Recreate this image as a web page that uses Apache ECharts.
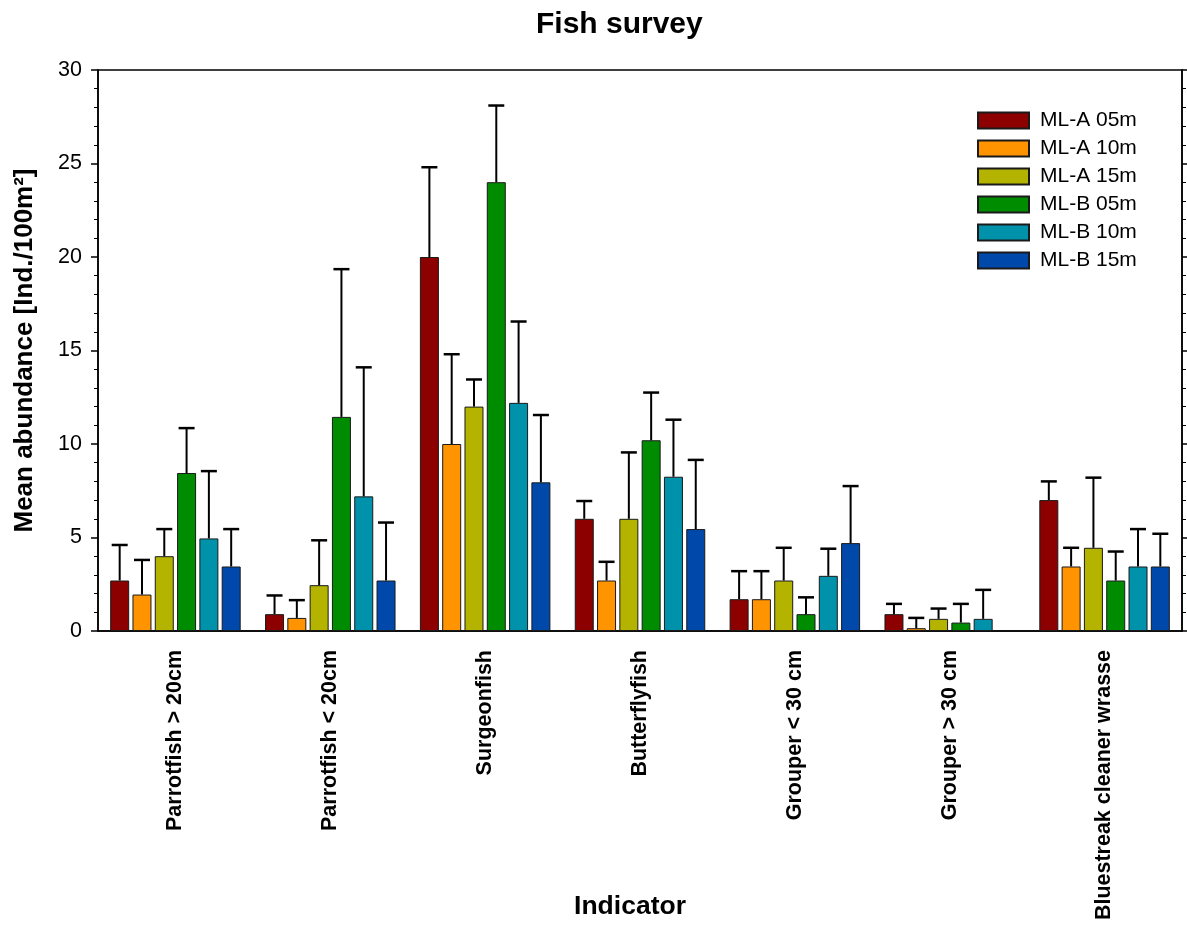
<!DOCTYPE html>
<html>
<head>
<meta charset="utf-8">
<script src="https://cdn.jsdelivr.net/npm/echarts@6/dist/echarts.min.js"></script>
<style>html,body{margin:0;padding:0;background:#fff;overflow:hidden}#c{width:1187px;height:925px}</style>
</head>
<body>
<div id="c"></div>
<script>
var categories = ['Parrotfish > 20cm', 'Parrotfish < 20cm', 'Surgeonfish', 'Butterflyfish', 'Grouper < 30 cm', 'Grouper > 30 cm', 'Bluestreak cleaner wrasse'];
var seriesNames = ['ML-A 05m', 'ML-A 10m', 'ML-A 15m', 'ML-B 05m', 'ML-B 10m', 'ML-B 15m'];
var mlA05 = [2.7, 0.9, 20.0, 6.0, 1.7, 0.9, 7.0];
var mlA05sd = [1.9, 1.0, 4.8, 0.95, 1.5, 0.55, 1.0];
var mlA10 = [1.95, 0.7, 10.0, 2.7, 1.7, 0.15, 3.45];
var mlA10sd = [1.85, 0.95, 4.8, 1.0, 1.5, 0.55, 1.0];
var mlA15 = [4.0, 2.45, 12.0, 6.0, 2.7, 0.65, 4.45];
var mlA15sd = [1.45, 2.4, 1.45, 3.55, 1.75, 0.55, 3.75];
var mlB05 = [8.45, 11.45, 24.0, 10.2, 0.9, 0.45, 2.7];
var mlB05sd = [2.4, 7.9, 4.1, 2.55, 0.9, 1.0, 1.55];
var mlB10 = [4.95, 7.2, 12.2, 8.25, 2.95, 0.65, 3.45];
var mlB10sd = [3.6, 6.9, 4.35, 3.05, 1.45, 1.55, 2.0];
var mlB15 = [3.45, 2.7, 7.95, 5.45, 4.7, null, 3.45];
var mlB15sd = [2.0, 3.1, 3.6, 3.7, 3.05, null, 1.75];
var yTicks = [0, 5, 10, 15, 20, 25, 30];

var means = [mlA05, mlA10, mlA15, mlB05, mlB10, mlB15];
var sds = [mlA05sd, mlA10sd, mlA15sd, mlB05sd, mlB10sd, mlB15sd];
var colors = ['#8C0000', '#FF9400', '#B4B400', '#008C00', '#0092AA', '#0049AA'];

var BAR_W = 19, PITCH = 22.3, CAP = 16;
var font = 'Liberation Sans, Arial, sans-serif';

var series = [];
seriesNames.forEach(function (name, i) {
  series.push({
    name: name, type: 'bar', data: means[i], barWidth: BAR_W, barGap: ((PITCH - BAR_W) / BAR_W * 100) + '%',
    itemStyle: { color: colors[i], borderColor: '#1a1a1a', borderWidth: 1 },
    z: 2
  });
});
seriesNames.forEach(function (name, i) {
  var data = [];
  means[i].forEach(function (m, k) {
    if (m != null && sds[i][k] != null) data.push([k, m, m + sds[i][k]]);
  });
  series.push({
    type: 'custom', z: 3, silent: true,
    encode: { x: 0, y: [1, 2] },
    data: data,
    renderItem: function (params, api) {
      var c = api.value(0);
      var lo = api.coord([c, api.value(1)]);
      var hi = api.coord([c, api.value(2)]);
      var x = lo[0] + (i - 2.5) * PITCH;
      return {
        type: 'group',
        children: [
          { type: 'line', shape: { x1: x, y1: lo[1], x2: x, y2: hi[1] }, style: { stroke: '#000', lineWidth: 2 } },
          { type: 'line', shape: { x1: x - CAP / 2, y1: hi[1], x2: x + CAP / 2, y2: hi[1] }, style: { stroke: '#000', lineWidth: 2.5 } }
        ]
      };
    }
  });
});

var chart = echarts.init(document.getElementById('c'), null, { renderer: 'canvas', width: 1187, height: 925 });
chart.setOption({
  animation: false,
  backgroundColor: '#fff',
  color: colors,
  title: {
    text: 'Fish survey', left: 531, top: 5,
    textStyle: { fontFamily: font, fontSize: 30, fontWeight: 'bold', color: '#000' }
  },
  legend: {
    data: seriesNames, orient: 'vertical', left: 972, top: 105,
    itemWidth: 51, itemHeight: 16, itemGap: 7,
    textStyle: { fontFamily: font, fontSize: 21, color: '#000', padding: [0, 0, 0, 6] },
    icon: 'rect'
  },
  grid: { left: 98, top: 70, width: 1084, height: 561, outerBoundsMode: 'none', containLabel: false,
    show: true, borderColor: '#000', borderWidth: 1.5, backgroundColor: 'transparent' },
  xAxis: {
    type: 'category', data: categories,
    name: 'Indicator', nameLocation: 'middle', nameGap: 262, nameMoveOverlap: false,
    nameTextStyle: { fontFamily: font, fontSize: 26.5, fontWeight: 'bold', color: '#000', padding: [0, 20, 0, 0] },
    axisLine: { lineStyle: { color: '#000', width: 1.5 } },
    axisTick: { alignWithLabel: true, length: 8, lineStyle: { color: '#000', width: 2 } },
    axisLabel: { rotate: 90, margin: 19, fontFamily: font, fontSize: 21.5, fontWeight: 'bold', color: '#000' }
  },
  yAxis: [{
    type: 'value', min: 0, max: 30, interval: 5,
    name: 'Mean abundance [Ind./100m²]', nameLocation: 'middle', nameGap: 60, nameMoveOverlap: false,
    nameTextStyle: { fontFamily: font, fontSize: 26, fontWeight: 'bold', color: '#000' },
    axisLine: { show: true, lineStyle: { color: '#000', width: 1.5 } },
    axisTick: { show: true, length: 7, lineStyle: { color: '#000', width: 1.5 } },
    minorTick: { show: true, splitNumber: 5, length: 4, lineStyle: { color: '#000', width: 1 } },
    splitLine: { show: false },
    axisLabel: { margin: 16, fontFamily: font, fontSize: 21.5, color: '#000',
      formatter: function (v) { return yTicks.indexOf(v) >= 0 ? String(v) : ''; } }
  }, {
    type: 'value', min: 0, max: 30, interval: 5, position: 'right',
    axisLine: { show: true, lineStyle: { color: '#000', width: 1.5 } },
    axisTick: { show: true, length: 7, lineStyle: { color: '#000', width: 1.5 } },
    minorTick: { show: true, splitNumber: 5, length: 4, lineStyle: { color: '#000', width: 1 } },
    splitLine: { show: false },
    axisLabel: { show: false }
  }],
  series: series
});
</script>
</body>
</html>
